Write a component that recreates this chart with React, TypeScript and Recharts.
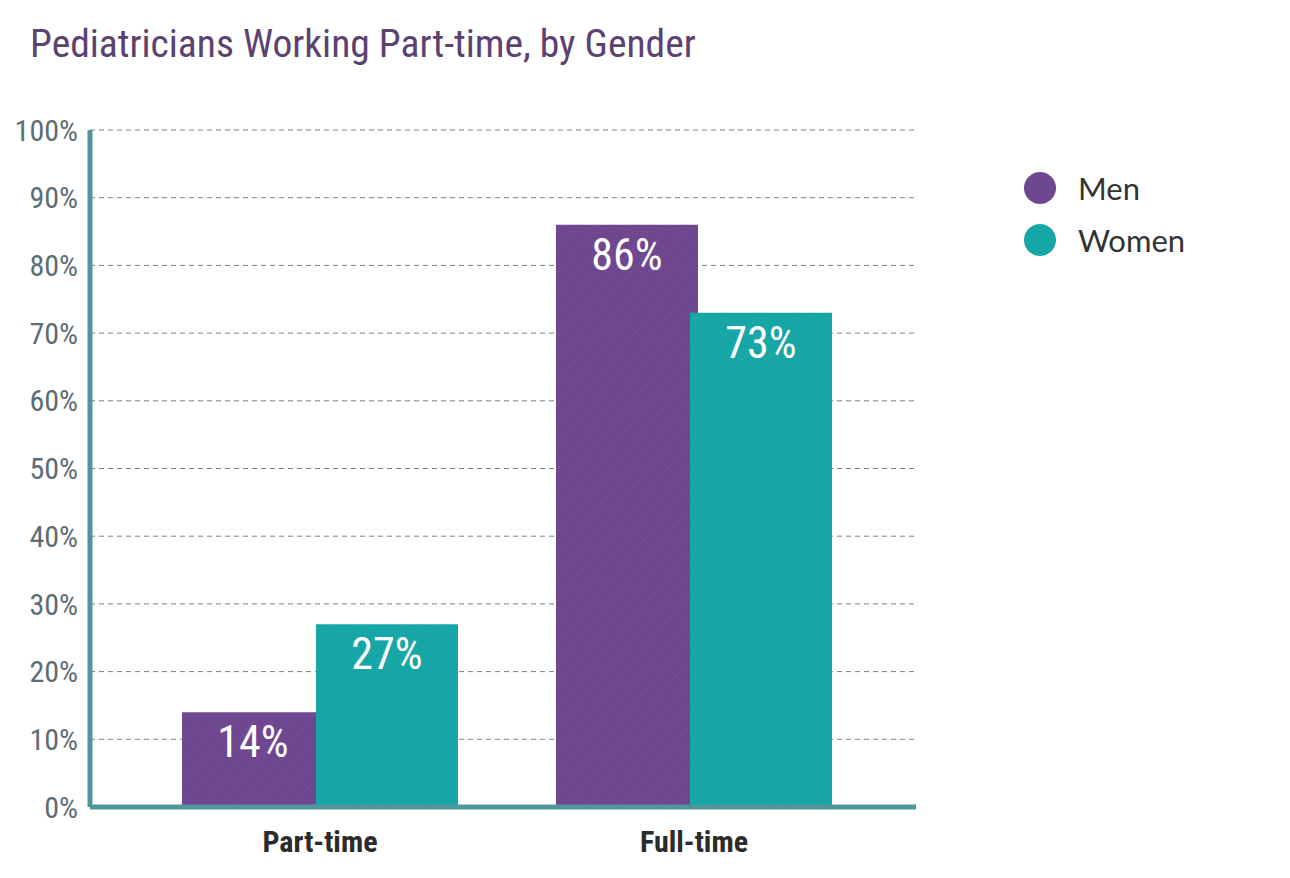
import { BarChart, Bar, XAxis, YAxis, CartesianGrid, LabelList } from "recharts";

const categories = ["Part-time", "Full-time"];
const menValues = [14, 86];
const womenValues = [27, 73];
const yTicks = [0, 10, 20, 30, 40, 50, 60, 70, 80, 90, 100];
const seriesNames = ["Men", "Women"];

const MEN = "#6f4790";
const WOMEN = "#17a6a6";
const AXIS = "#4f969d";
const COND = "'Roboto Condensed', 'Liberation Sans Narrow', 'DejaVu Sans Condensed', Roboto, sans-serif";

const data = categories.map((c, i) => ({ name: c, men: menValues[i], women: womenValues[i] }));

export default function App() {
  const legendColors = [MEN, WOMEN];
  return (
    <div style={{ position: "absolute", left: 0, top: 0, width: 1290, height: 878, background: "#fff" }}>
      <div
        style={{
          position: "absolute",
          left: 30,
          top: 20,
          fontFamily: COND,
          fontSize: 39.5,
          color: "#5c4270",
        }}
      >
        Pediatricians Working Part-time, by Gender
      </div>
      <div style={{ position: "absolute", left: 1024, top: 162, fontFamily: "Lato, 'Open Sans', sans-serif" }}>
        {seriesNames.map((n, i) => (
          <div key={n} style={{ display: "flex", alignItems: "center", height: 52 }}>
            <span
              style={{
                width: 32,
                height: 32,
                borderRadius: 16,
                background: legendColors[i],
                display: "inline-block",
                marginRight: 22,
              }}
            />
            <span style={{ fontSize: 31, color: "#333" }}>{n}</span>
          </div>
        ))}
      </div>
      <BarChart
        width={1290}
        height={878}
        data={data}
        margin={{ top: 130, right: 374, left: 8, bottom: 21 }}
        barSize={142}
        barGap={-8}
      >
        <defs>
          <pattern id="texMen" width="14" height="14" patternUnits="userSpaceOnUse" patternTransform="rotate(40)">
            <rect width="14" height="14" fill={MEN} />
            <line x1="0" y1="0" x2="0" y2="14" stroke="#fff" strokeOpacity={0.2} strokeWidth={1} strokeDasharray="1 3" />
          </pattern>
          <pattern id="texWomen" width="14" height="14" patternUnits="userSpaceOnUse" patternTransform="rotate(40)">
            <rect width="14" height="14" fill={WOMEN} />
            <line x1="0" y1="0" x2="0" y2="14" stroke="#fff" strokeOpacity={0.2} strokeWidth={1} strokeDasharray="1 3" />
          </pattern>
        </defs>
        <CartesianGrid vertical={false} stroke="#6f8588" strokeDasharray="5 4" />
        <XAxis
          dataKey="name"
          height={50}
          padding={{ left: 43, right: 35 }}
          axisLine={{ stroke: AXIS, strokeWidth: 5 }}
          tickLine={false}
          tickMargin={18}
          tick={{ fill: "#2b2b2b", fontSize: 30, fontWeight: 700, fontFamily: COND }}
        />
        <YAxis
          width={82}
          domain={[0, 100]}
          ticks={yTicks}
          tickFormatter={(v: number) => `${v}%`}
          axisLine={{ stroke: AXIS, strokeWidth: 5 }}
          tickLine={false}
          tickMargin={6}
          tick={{ fill: "#5b6d75", fontSize: 30, fontFamily: COND }}
        />
        <Bar dataKey="men" name="Men" fill="url(#texMen)" isAnimationActive={false}>
          <LabelList
            dataKey="men"
            position="insideTop"
            offset={14}
            formatter={(v: any) => `${v}%`}
            style={{ fill: "#fff", fontSize: 44, fontFamily: COND }}
          />
        </Bar>
        <Bar dataKey="women" name="Women" fill="url(#texWomen)" isAnimationActive={false}>
          <LabelList
            dataKey="women"
            position="insideTop"
            offset={14}
            formatter={(v: any) => `${v}%`}
            style={{ fill: "#fff", fontSize: 44, fontFamily: COND }}
          />
        </Bar>
      </BarChart>
    </div>
  );
}
